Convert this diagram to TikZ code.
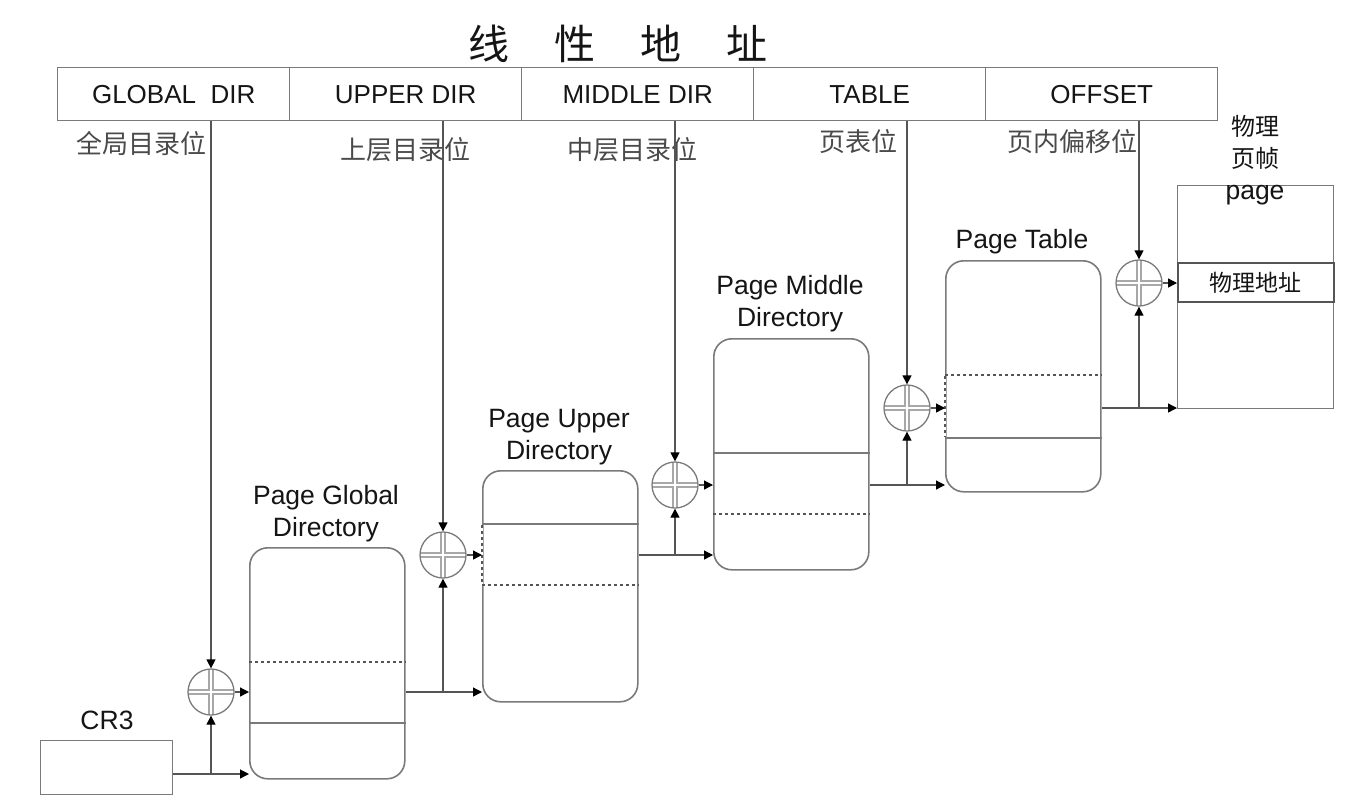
\documentclass[tikz,border=0pt]{standalone}
\usepackage{fontspec}
\setmainfont{Liberation Sans}
\newfontfamily\cjk{Noto Sans CJK SC}
\usetikzlibrary{arrows.meta,calc}
\definecolor{boxc}{HTML}{7A7A7A}
\definecolor{linec}{HTML}{555555}
\definecolor{crossc}{HTML}{A8A8A8}
\definecolor{txtc}{HTML}{151515}
\definecolor{cjkc}{HTML}{4A4A4A}
\tikzset{
  ln/.style={draw=linec, line width=1.3pt},
  arr/.style={ln, -{Triangle[length=9pt,width=9pt,color=black]}},
  fieldbox/.style={draw=boxc, line width=1.4pt, minimum width=232pt, minimum height=53pt, inner sep=0pt, anchor=north west, text=txtc, font=\fontsize{26}{28}\selectfont},
  tblbox/.style={draw=boxc, line width=1.6pt, rounded corners=18pt, minimum width=155pt, minimum height=231pt, inner sep=0pt, anchor=north west},
  rowsolid/.style={draw=boxc, line width=1.4pt},
  rowdash/.style={draw=linec, line width=1.4pt, dash pattern=on 3pt off 3pt},
  adder/.style={circle, draw=boxc, line width=1.3pt, minimum size=46pt, inner sep=0pt,
    path picture={
      \draw[crossc, line width=6pt] (path picture bounding box.north) -- (path picture bounding box.south)
        (path picture bounding box.west) -- (path picture bounding box.east);
      \draw[white, line width=1.6pt] (path picture bounding box.north) -- (path picture bounding box.south)
        (path picture bounding box.west) -- (path picture bounding box.east);}},
  lbl/.style={text=txtc, font=\fontsize{26.5}{32}\selectfont, align=center, inner sep=0pt},
  clbl/.style={text=cjkc, font=\cjk\fontsize{26}{28}\selectfont, inner sep=0pt},
}
\begin{document}
\begin{tikzpicture}[x=1pt,y=-1pt]
\useasboundingbox[fill=white] (0,0) rectangle (1356,804);

% title
\node[text=txtc, font=\cjk\fontsize{41}{43}\selectfont, inner sep=0pt] (title) at (618,44) {线\hspace{1.1em}性\hspace{1.1em}地\hspace{1.1em}址};

% linear address fields
\node[fieldbox] (gdir) at (57,67) {GLOBAL\ \ DIR};
\node[fieldbox] (udir) at (289,67) {UPPER DIR};
\node[fieldbox] (mdir) at (521,67) {MIDDLE DIR};
\node[fieldbox] (tfld) at (753,67) {TABLE};
\node[fieldbox] (ofld) at (985,67) {OFFSET};

% field captions
\node[clbl] (c1) at (141,143) {全局目录位};
\node[clbl] (c2) at (405,150) {上层目录位};
\node[clbl] (c3) at (632,150) {中层目录位};
\node[clbl] (c4) at (858,142) {页表位};
\node[clbl] (c5) at (1072,142) {页内偏移位};

% CR3
\node[draw=boxc, line width=1.4pt, minimum width=132pt, minimum height=54pt, inner sep=0pt, anchor=north west] (cr3) at (40,740) {};
\node[lbl] (cr3l) at (107,720) {CR3};

% tables
\node[tblbox] (pgd) at (249,547) {};
\node[tblbox] (pud) at (482,470) {};
\node[tblbox] (pmd) at (713,338) {};
\node[tblbox] (pt) at (945,260) {};
\node[draw=boxc, line width=1.4pt, minimum width=156pt, minimum height=223pt, inner sep=0pt, anchor=north west] (page) at (1177,185) {};
\node[draw=linec, line width=1.8pt, minimum width=156pt, minimum height=39pt, inner sep=0pt, anchor=north west, font=\cjk\fontsize{23}{25}\selectfont, text=txtc] (pa) at (1177,262) {物理地址};

% table rows
\draw[rowdash] (pgd.west |- 0,662) -- (pgd.east |- 0,662);
\draw[rowsolid] (pgd.west |- 0,723) -- (pgd.east |- 0,723);
\draw[rowsolid] (pud.west |- 0,524) -- (pud.east |- 0,524);
\draw[rowdash] (pud.west |- 0,585) -- (pud.east |- 0,585);
\draw[white, line width=2pt] (pud.west |- 0,525) -- (pud.west |- 0,584);
\draw[rowdash] (pud.west |- 0,525) -- (pud.west |- 0,584);
\draw[rowsolid] (pmd.west |- 0,453) -- (pmd.east |- 0,453);
\draw[rowdash] (pmd.west |- 0,514) -- (pmd.east |- 0,514);
\draw[rowdash] (pt.west |- 0,375) -- (pt.east |- 0,375);
\draw[rowsolid] (pt.west |- 0,438) -- (pt.east |- 0,438);
\draw[white, line width=2pt] (pt.west |- 0,376) -- (pt.west |- 0,437);
\draw[rowdash] (pt.west |- 0,376) -- (pt.west |- 0,437);

% table titles
\node[lbl] (pgdl) at (326,514) {Page Global\\Directory};
\node[lbl] (pudl) at (559,437) {Page Upper\\Directory};
\node[lbl] (pmdl) at (790,304) {Page Middle\\Directory};
\node[lbl] (ptl) at (1022,242) {Page Table};
\node[lbl, text=txtc] (pagel) at (1255,160) {{\cjk\fontsize{24}{26}\selectfont 物理}\\{\cjk\fontsize{24}{26}\selectfont 页帧}\\page};

% adders
\node[adder] (a1) at (211,692) {};
\node[adder] (a2) at (443,555) {};
\node[adder] (a3) at (675,485) {};
\node[adder] (a4) at (907,408) {};
\node[adder] (a5) at (1139,283) {};

% join points
\coordinate (j1) at (211,774);
\coordinate (j2) at (a2 |- a1);
\coordinate (j3) at (a3 |- a2);
\coordinate (j4) at (a4 |- a3);
\coordinate (j5) at (a5 |- a4);

% index bits down into adders
\draw[arr] (gdir.south -| a1) -- (a1.north);
\draw[arr] (udir.south -| a2) -- (a2.north);
\draw[arr] (mdir.south -| a3) -- (a3.north);
\draw[arr] (tfld.south -| a4) -- (a4.north);
\draw[arr] (ofld.south -| a5) -- (a5.north);

% base lines
\draw[ln] (cr3.east |- j1) -- (j1);
\draw[arr] (j1) -- (j1 -| pgd.west);
\draw[arr] (j1) -- (a1.south);
\draw[ln] (pgd.east |- j2) -- (j2);
\draw[arr] (j2) -- (j2 -| pud.west);
\draw[arr] (j2) -- (a2.south);
\draw[ln] (pud.east |- j3) -- (j3);
\draw[arr] (j3) -- (j3 -| pmd.west);
\draw[arr] (j3) -- (a3.south);
\draw[ln] (pmd.east |- j4) -- (j4);
\draw[arr] (j4) -- (j4 -| pt.west);
\draw[arr] (j4) -- (a4.south);
\draw[ln] (pt.east |- j5) -- (j5);
\draw[arr] (j5) -- (j5 -| page.west);
\draw[arr] (j5) -- (a5.south);

% adder outputs
\draw[arr] (a1.east) -- (a1 -| pgd.west);
\draw[arr] (a2.east) -- (a2 -| pud.west);
\draw[arr] (a3.east) -- (a3 -| pmd.west);
\draw[arr] (a4.east) -- (a4 -| pt.west);
\draw[arr] (a5.east) -- (a5 -| pa.west);
\end{tikzpicture}
\end{document}
